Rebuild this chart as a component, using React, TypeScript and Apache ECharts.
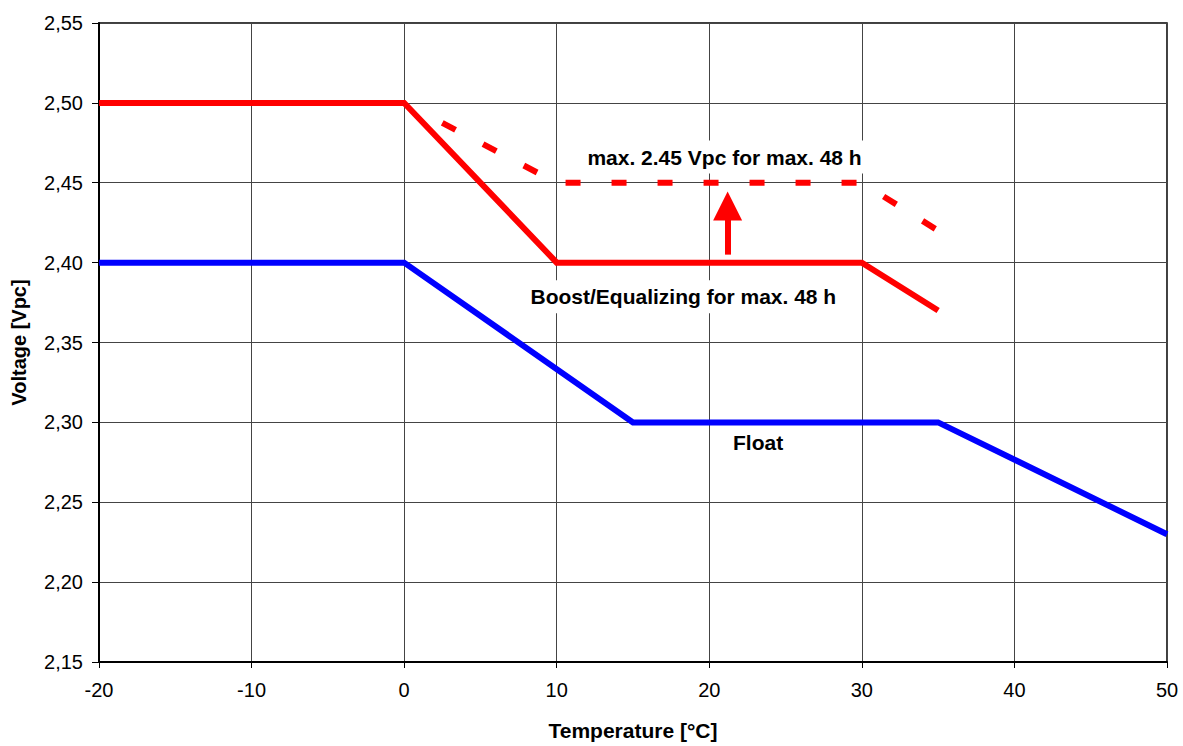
import React, { useEffect, useRef } from "react";
import * as echarts from "echarts";

// Axis ranges / ticks
const xMin = -20;
const xMax = 50;
const xInterval = 10;
const yMin = 2.15;
const yMax = 2.55;
const yInterval = 0.05;

// Float charge curve
const floatTemps = [-20, 0, 15, 35, 50];
const floatVolts = [2.4, 2.4, 2.3, 2.3, 2.23];

// Boost / equalizing curve
const boostTemps = [-20, 0, 10, 30, 35];
const boostVolts = [2.5, 2.5, 2.4, 2.4, 2.37];

// Max 2.45 Vpc dashed curve
const maxTemps = [2.5, 10, 30, 35];
const maxVolts = [2.4875, 2.45, 2.45, 2.42];

// Arrow (temperature, from voltage, to voltage)
const arrowTemp = 21.2;
const arrowFromVolt = 2.405;
const arrowHeadVolt = 2.4354;

// Annotation texts
const annotTexts = ["max. 2.45 Vpc for max. 48 h", "Boost/Equalizing for max. 48 h", "Float"];
const annotTemps = [21.0, 18.3, 23.2];
const annotVolts = [2.4661, 2.3786, 2.2873];

const FONT = "'Liberation Sans', Arial, Helvetica, sans-serif";

function zip(xs: number[], ys: number[]) {
  return xs.map((x, i) => [x, ys[i]]);
}

export default function App() {
  const ref = useRef<HTMLDivElement>(null);

  useEffect(() => {
    document.body.style.margin = "0";
    if (!ref.current) return;
    const chart = echarts.init(ref.current, null, { renderer: "svg" });

    const option: any = {
      animation: false,
      backgroundColor: "#fff",
      grid: {
        left: 99,
        right: 16,
        top: 23,
        bottom: 79,
        show: true,
        borderColor: "#000",
        borderWidth: 1.5,
        backgroundColor: "#fff",
      },
      xAxis: {
        type: "value",
        min: xMin,
        max: xMax,
        interval: xInterval,
        name: "Temperature [°C]",
        nameLocation: "middle",
        nameGap: 58,
        nameTextStyle: { fontFamily: FONT, fontSize: 21, fontWeight: "bold", color: "#000" },
        axisLine: { show: true, onZero: false, lineStyle: { color: "#000", width: 2 } },
        axisTick: { show: true, length: 6, lineStyle: { color: "#000", width: 1 } },
        axisLabel: { fontFamily: FONT, fontSize: 20, color: "#000", margin: 18 },
        splitLine: { show: true, lineStyle: { color: "#444", width: 1 } },
      },
      yAxis: {
        type: "value",
        min: yMin,
        max: yMax,
        interval: yInterval,
        name: "Voltage [Vpc]",
        nameLocation: "middle",
        nameGap: 70,
        nameRotate: 90,
        nameTextStyle: { fontFamily: FONT, fontSize: 20, fontWeight: "bold", color: "#000" },
        axisLine: { show: true, onZero: false, lineStyle: { color: "#000", width: 2 } },
        axisTick: { show: true, length: 7, lineStyle: { color: "#000", width: 1 } },
        axisLabel: {
          fontFamily: FONT,
          fontSize: 20,
          color: "#000",
          margin: 16,
          formatter: (v: number) => v.toFixed(2).replace(".", ","),
        },
        splitLine: { show: true, lineStyle: { color: "#444", width: 1 } },
      },
      series: [
        {
          name: "Float",
          type: "line",
          data: zip(floatTemps, floatVolts),
          showSymbol: false,
          symbol: "none",
          lineStyle: { color: "#0000ff", width: 6, join: "miter" },
          silent: true,
          z: 3,
        },
        {
          name: "Boost",
          type: "line",
          data: zip(boostTemps, boostVolts),
          showSymbol: false,
          symbol: "none",
          lineStyle: { color: "#ff0000", width: 6, join: "miter" },
          silent: true,
          z: 3,
          markLine: {
            silent: true,
            animation: false,
            symbol: ["none", "triangle"],
            symbolSize: [29, 29],
            label: { show: false },
            lineStyle: { color: "#ff0000", width: 6, type: "solid" },
            emphasis: { disabled: true },
            data: [
              [
                { coord: [arrowTemp, arrowFromVolt] },
                { coord: [arrowTemp, arrowHeadVolt] },
              ],
            ],
          },
        },
        {
          name: "Max",
          type: "line",
          data: zip(maxTemps, maxVolts),
          showSymbol: false,
          symbol: "none",
          lineStyle: { color: "#ff0000", width: 6, type: [15, 31], cap: "butt" },
          silent: true,
          z: 3,
        },
        {
          name: "Annotations",
          type: "scatter",
          data: [],
          silent: true,
          z: 5,
          markPoint: {
            silent: true,
            symbol: "rect",
            symbolSize: 1,
            itemStyle: { color: "rgba(0,0,0,0)" },
            data: annotTexts.map((t, i) => ({
              coord: [annotTemps[i], annotVolts[i]],
              label: {
                show: true,
                position: "inside",
                formatter: t,
                fontFamily: FONT,
                fontSize: 21,
                fontWeight: "bold",
                color: "#000",
                backgroundColor: "#fff",
                padding: [6, 8],
              },
            })),
          },
        },
      ],
    };

    chart.setOption(option);
    return () => {
      chart.dispose();
    };
  }, []);

  return <div ref={ref} style={{ width: 1183, height: 746 }} />;
}
